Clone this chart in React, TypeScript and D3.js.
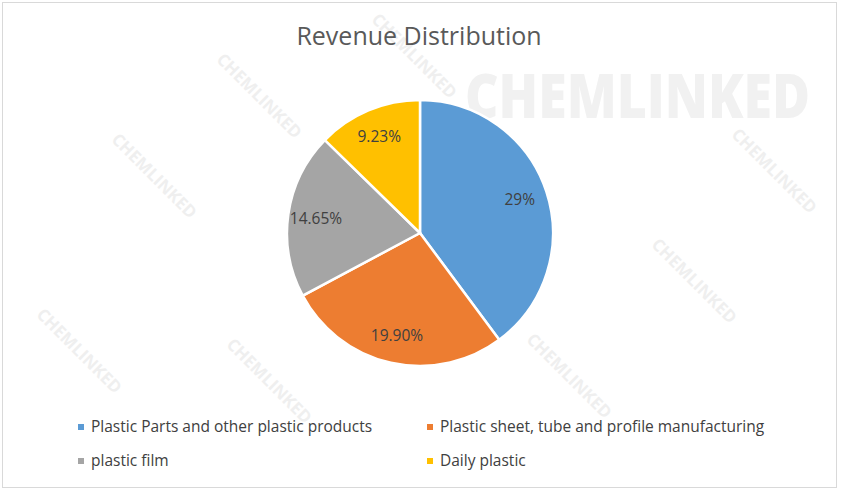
import React, { useEffect, useRef } from 'react';
import * as d3 from 'd3';

const categories = [
  'Plastic Parts and other plastic products',
  'Plastic sheet, tube and profile manufacturing',
  'plastic film',
  'Daily plastic',
];
const values = [29, 19.9, 14.65, 9.23];
const valueLabels = ['29%', '19.90%', '14.65%', '9.23%'];
const colors = ['#5b9bd5', '#ed7d31', '#a5a5a5', '#ffc000'];

// faint watermark stamps seen behind the chart
const watermarks = [
  { x: 255, y: 100 }, { x: 470, y: 165 }, { x: 150, y: 180 }, { x: 770, y: 175 },
  { x: 385, y: 290 }, { x: 690, y: 285 }, { x: 265, y: 385 }, { x: 565, y: 380 },
  { x: 75, y: 355 }, { x: 410, y: 60 },
];

const FONT = '"Open Sans", "Noto Sans", sans-serif';

const App: React.FC = () => {
  const ref = useRef<SVGSVGElement | null>(null);

  useEffect(() => {
    if (!ref.current) return;
    const svg = d3.select(ref.current);
    svg.selectAll('*').remove();
    const width = 844;
    const height = 490;

    svg.append('rect')
      .attr('x', 2.5).attr('y', 2.5)
      .attr('width', 834).attr('height', 485)
      .attr('fill', '#fff')
      .attr('stroke', '#d9d9d9');

    const wm = svg.append('g').attr('fill', '#efefef').attr('font-family', FONT).attr('font-weight', 700);
    wm.selectAll('text')
      .data(watermarks)
      .enter().append('text')
      .attr('transform', d => `translate(${d.x},${d.y}) rotate(45)`)
      .attr('text-anchor', 'middle')
      .attr('font-size', 17)
      .text('CHEMLINKED');
    wm.append('text')
      .attr('x', 465).attr('y', 118)
      .attr('font-size', 62)
      .attr('font-weight', 800)
      .attr('textLength', 345)
      .attr('lengthAdjust', 'spacingAndGlyphs')
      .attr('fill', '#f1f1f1')
      .text('CHEMLINKED');

    svg.append('text')
      .attr('x', 419).attr('y', 45)
      .attr('text-anchor', 'middle')
      .attr('font-family', FONT)
      .attr('font-size', 25)
      .attr('fill', '#595959')
      .text('Revenue Distribution');

    const cx = 420, cy = 233, r = 133;
    const pie = d3.pie<number>().sort(null).value(d => d);
    const arcs = pie(values);
    const arc = d3.arc<d3.PieArcDatum<number>>().innerRadius(0).outerRadius(r);
    const labelArc = d3.arc<d3.PieArcDatum<number>>().innerRadius(r * 0.79).outerRadius(r * 0.79);

    const g = svg.append('g').attr('transform', `translate(${cx},${cy})`);
    g.selectAll('path')
      .data(arcs)
      .enter().append('path')
      .attr('d', arc)
      .attr('fill', (d, i) => colors[i])
      .attr('stroke', '#fff')
      .attr('stroke-width', 2.5);

    g.selectAll('text')
      .data(arcs)
      .enter().append('text')
      .attr('transform', d => `translate(${labelArc.centroid(d)})`)
      .attr('text-anchor', 'middle')
      .attr('dy', '0.35em')
      .attr('font-family', FONT)
      .attr('font-size', 15.5)
      .attr('fill', '#404040')
      .text((d, i) => valueLabels[i]);

    const legendX = d3.scalePoint<number>().domain([0, 1]).range([78, 427]);
    const legendY = d3.scalePoint<number>().domain([0, 1]).range([427, 461]);
    const lg = svg.append('g')
      .selectAll('g')
      .data(categories)
      .enter().append('g')
      .attr('transform', (d, i) => `translate(${legendX(i % 2)},${legendY(Math.floor(i / 2))})`);
    lg.append('rect')
      .attr('x', 0).attr('y', -3)
      .attr('width', 6).attr('height', 6)
      .attr('fill', (d, i) => colors[i]);
    lg.append('text')
      .attr('x', 13)
      .attr('dy', '0.35em')
      .attr('font-family', FONT)
      .attr('font-size', 15.5)
      .attr('fill', '#404040')
      .text(d => d);

    svg.attr('width', width).attr('height', height);
  }, []);

  return (
    <svg ref={ref} width={844} height={490} style={{ display: 'block', position: 'absolute', left: 0, top: 0 }} />
  );
};

export default App;
